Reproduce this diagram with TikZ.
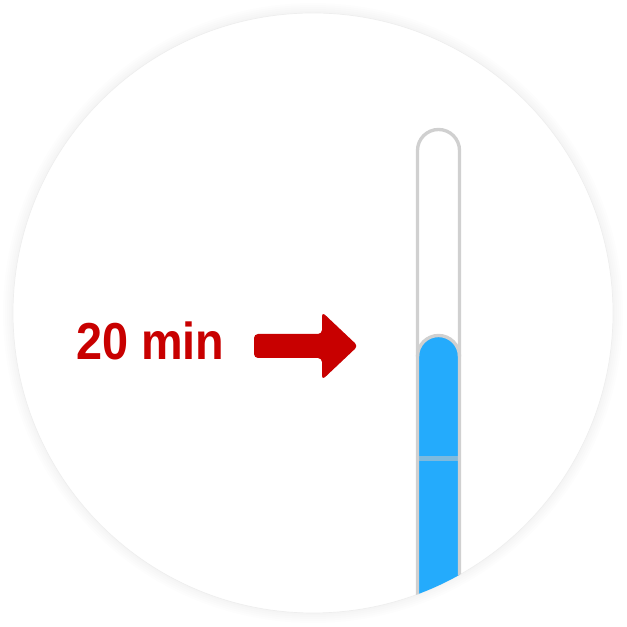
\documentclass[tikz,border=0pt]{standalone}
\usepackage{xcolor}
\usepackage{fontspec}
\usepackage{tikz}
\newfontfamily\labelfont[FakeStretch=0.9]{Liberation Sans}
\definecolor{arrowred}{RGB}{200, 0, 0}
\definecolor{levelblue}{RGB}{36, 171, 252}
\definecolor{tubegray}{RGB}{208, 208, 208}
\definecolor{markline}{RGB}{125, 186, 222}
\definecolor{rimgray}{RGB}{238, 238, 238}

\begin{document}
\begin{tikzpicture}[x=0.75pt, y=0.75pt]
  \useasboundingbox (0,0) rectangle (627,627);
  \fill[white] (0,0) rectangle (627,627);
  \coordinate (dialcentre) at (313,314);
  \foreach \r in {310,308,...,301}
    \fill[black, opacity=0.008] (dialcentre) circle (\r);
  \fill[white] (dialcentre) circle (300);
  \draw[rimgray, line width=0.5] (dialcentre) circle (300);
  \begin{scope}
    \clip (dialcentre) circle (300);
    \fill[levelblue] (417.5,-20) -- (417.5,270.5) arc (180:0:21) -- (459.5,-20) -- cycle;
    \draw[markline, line width=4] (419,168.5) -- (458,168.5);
    \draw[tubegray, line width=2.5] (417.5,270.5) arc (180:0:21);
    \draw[tubegray, line width=2.5] (417.5,-20) -- (417.5,476.5) arc (180:0:21) -- (459.5,-20);
  \end{scope}
  \coordinate (tube) at (438,281);
  \node[
    anchor=base west,
    inner sep=0pt,
    text=arrowred
  ] (label) at (76,267) {\labelfont\fontsize{39}{44}\selectfont\bfseries 20 min};
  \fill[arrowred, rounded corners=3] (254,293) -- (322,293) -- (322,315)
    -- (358,281) -- (322,247) -- (322,269) -- (254,269) -- cycle;
\end{tikzpicture}
\end{document}
